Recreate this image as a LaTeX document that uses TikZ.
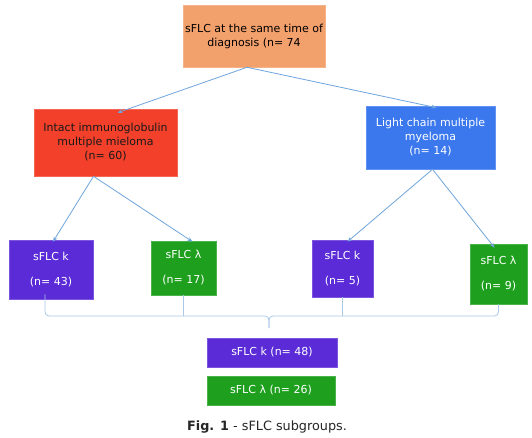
\documentclass[tikz,border=0pt]{standalone}
\usepackage{fontspec}
\setmainfont{DejaVu Sans}
\usetikzlibrary{arrows.meta,shadows}
\definecolor{orangebox}{HTML}{F2A06C}
\definecolor{redbox}{HTML}{F2402A}
\definecolor{bluebox}{HTML}{3B78EE}
\definecolor{purplebox}{HTML}{5A2BD6}
\definecolor{greenbox}{HTML}{1EA01E}
\definecolor{linkcol}{HTML}{6FA5DC}
\definecolor{bracecol}{HTML}{A9C9EA}
\tikzset{
  box/.style={draw=#1!80!white, fill=#1, line width=0.6pt, align=center, inner sep=2pt,
    font=\fontsize{11}{14}\selectfont,
    drop shadow={shadow xshift=1.2pt, shadow yshift=-1.2pt, opacity=0.35, fill=black!60}},
  link/.style={draw=linkcol, line width=0.8pt, -{Stealth[length=5pt,width=4pt]}},
  bracket/.style={draw=bracecol, line width=0.8pt, rounded corners=4pt},
}
\begin{document}
\begin{tikzpicture}[x=1pt,y=-1pt]
\fill[white] (0,0) rectangle (532,438);
\useasboundingbox (0,0) rectangle (532,438);

\node[box=orangebox, minimum width=142pt, minimum height=62pt, text=black] (top) at (254,36)
  {sFLC at the same time of\\diagnosis (n= 74};
\node[box=redbox, minimum width=143pt, minimum height=67pt, text=black!90] (iimm) at (105.5,142.5)
  {Intact immunoglobulin\\multiple mieloma\\(n= 60)};
\node[box=bluebox, minimum width=129pt, minimum height=63pt, text=white] (lcmm) at (430.5,137.5)
  {Light chain multiple\\myeloma\\(n= 14)};

\node[box=purplebox, minimum width=84pt, minimum height=59pt, text=white] (k1) at (51,269.5)
  {sFLC k\\[11pt](n= 43)};
\node[box=greenbox, minimum width=65pt, minimum height=54pt, text=white] (l1) at (183.5,268)
  {sFLC λ\\[11pt](n= 17)};
\node[box=purplebox, minimum width=61pt, minimum height=57pt, text=white] (k2) at (342.5,268.5)
  {sFLC k\\[11pt](n= 5)};
\node[box=greenbox, minimum width=57pt, minimum height=60pt, text=white] (l2) at (498.5,274)
  {sFLC λ\\[11pt](n= 9)};

\node[box=purplebox, minimum width=130pt, minimum height=29pt, text=white] (ktot) at (272,352.5)
  {sFLC k (n= 48)};
\node[box=greenbox, minimum width=128pt, minimum height=29pt, text=white] (ltot) at (271,390.5)
  {sFLC λ (n= 26)};

\node[font=\fontsize{12.8}{14}\selectfont, text=black!85] (cap) at (267,427)
  {\textbf{Fig. 1} - sFLC subgroups.};

% arrows
\draw[link] ([xshift=-7pt]top.south) -- ([xshift=12pt,yshift=-4pt]iimm.north);
\draw[link] ([xshift=-7pt]top.south) -- ([xshift=6pt,yshift=-2pt]lcmm.north);
\draw[link] ([xshift=-12pt]iimm.south) -- ([xshift=2pt,yshift=-2pt]k1.north);
\draw[link] ([xshift=-12pt]iimm.south) -- ([xshift=9pt,yshift=-1pt]l1.north);
\draw[link] ([xshift=2pt]lcmm.south) -- ([xshift=5pt,yshift=-2pt]k2.north);
\draw[link] ([xshift=2pt]lcmm.south) -- ([xshift=-4pt,yshift=-4pt]l2.north);

% bracket
\coordinate (bl) at ([xshift=-6pt,yshift=5pt]k1.south);
\coordinate (br) at (l2.south);
\coordinate (mid) at (269,316);
\coordinate (tip) at (269,328);
\draw[bracket] (bl) |- (mid) -- (tip);
\draw[bracket] (br) |- (mid) -- (tip);
\draw[bracket] (l1.south) -- (l1.south |- mid);
\draw[bracket] (k2.south) -- (k2.south |- mid);
\end{tikzpicture}
\end{document}
